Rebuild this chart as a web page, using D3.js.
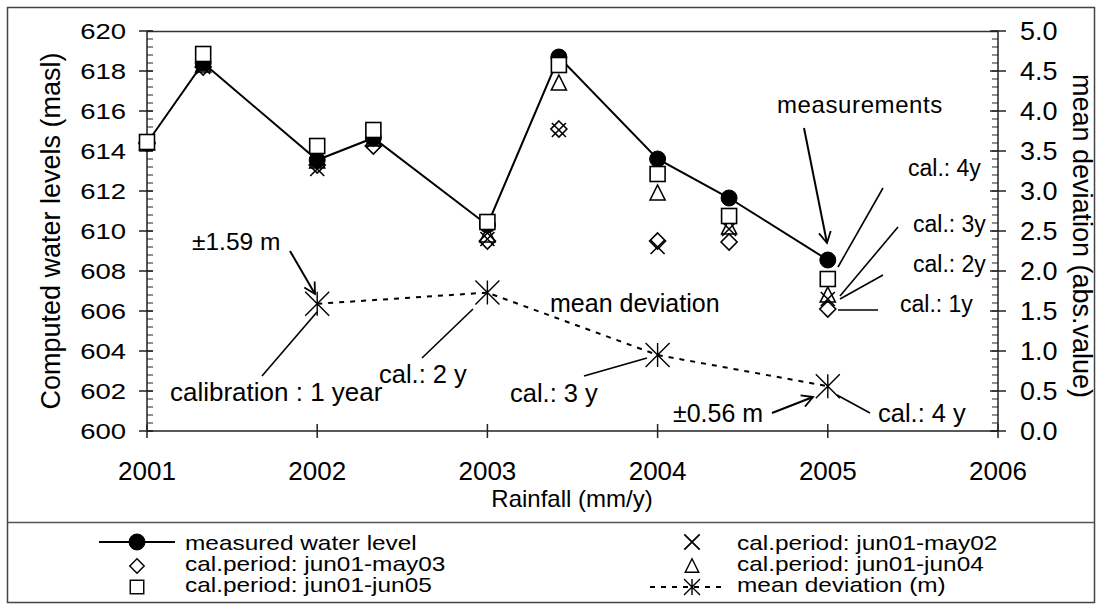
<!DOCTYPE html>
<html><head><meta charset="utf-8">
<script src="https://cdn.jsdelivr.net/npm/d3@7"></script>
<style>html,body{margin:0;padding:0;background:#fff;} svg{display:block;font-family:"Liberation Sans",Arial,sans-serif;}</style>
</head><body><svg id="c" width="1098" height="606"></svg>
<script>
// ---------- data ----------
const dates      = [2001, 2001.33, 2002, 2002.33, 2003, 2003.42, 2004, 2004.42, 2005];
const measured   = [614.4, 618.4, 613.55, 614.65, 610.3, 618.7, 613.6, 611.65, 608.55];
const calMay02   = [614.4, 618.2, 613.1, 614.5, 609.6, 615.05, 609.2, 610.1, 606.6];
const calMay03   = [614.4, 618.2, 613.3, 614.25, 609.5, 615.1, 609.5, 609.45, 606.1];
const calJun04   = [614.4, 618.3, 613.5, 614.6, 609.8, 617.4, 611.9, 610.2, 606.8];
const calJun05   = [614.45, 618.85, 614.25, 615.05, 610.45, 618.3, 612.85, 610.75, 607.6];
const devYears   = [2002, 2003, 2004, 2005];
const meanDev    = [1.59, 1.73, 0.95, 0.56];
const xTicks     = [2001, 2002, 2003, 2004, 2005, 2006];
const yLeftTicks = [600, 602, 604, 606, 608, 610, 612, 614, 616, 618, 620];
const yRightTicks= [0.0, 0.5, 1.0, 1.5, 2.0, 2.5, 3.0, 3.5, 4.0, 4.5, 5.0];
const legendLabels = ["measured water level", "cal.period: jun01-may03", "cal.period: jun01-jun05",
                      "cal.period: jun01-may02", "cal.period: jun01-jun04", "mean deviation (m)"];

// ---------- layout ----------
const svg = d3.select("#c");
const L = 147, R = 998, T = 31, B = 431;
const x  = d3.scaleLinear().domain([2001, 2006]).range([L, R]);
const yL = d3.scaleLinear().domain([600, 620]).range([B, T]);
const yR = d3.scaleLinear().domain([0, 5]).range([B, T]);
const INK = "#000";

function text(px, py, s, fs, o = {}) {
  const sx = o.sx || 1;
  let tr = `translate(${px},${py})`;
  if (o.rot) tr += ` rotate(${o.rot})`;
  if (sx !== 1) tr += ` scale(${sx},1)`;
  return svg.append("text").attr("transform", tr)
    .attr("font-size", fs).attr("text-anchor", o.anchor || "start")
    .attr("letter-spacing", o.ls || 0)
    .attr("fill", INK).text(s);
}

// outer frame & legend separator
svg.append("rect").attr("x", 7.5).attr("y", 7.5).attr("width", 1087).attr("height", 595)
  .attr("fill", "none").attr("stroke", "#444").attr("stroke-width", 1.5);
svg.append("line").attr("x1", 7).attr("x2", 1095).attr("y1", 522.5).attr("y2", 522.5)
  .attr("stroke", "#555").attr("stroke-width", 1.5);

// plot frame top
svg.append("line").attr("x1", L).attr("x2", R).attr("y1", T + 0.5).attr("y2", T + 0.5)
  .attr("stroke", "#333").attr("stroke-width", 1.5);

// axes
const ax = svg.append("g").attr("stroke", "#222").attr("stroke-width", 1.5).attr("fill", "none");
ax.append("line").attr("x1", L).attr("x2", L).attr("y1", T).attr("y2", B);
ax.append("line").attr("x1", R).attr("x2", R).attr("y1", T).attr("y2", B);
ax.append("line").attr("x1", L).attr("x2", R).attr("y1", B).attr("y2", B);
// left minor ticks
d3.range(600, 620.01, 0.4).forEach(v => {
  ax.append("line").attr("x1", L).attr("x2", L + 6).attr("y1", yL(v)).attr("y2", yL(v)).attr("stroke-width", 1);
});
yLeftTicks.forEach(v => {
  ax.append("line").attr("x1", L - 8).attr("x2", L + 6).attr("y1", yL(v)).attr("y2", yL(v));
  text(126, yL(v) + 8, String(v), 22, {anchor: "end", sx: 1.25});
});
// right minor ticks
d3.range(0, 5.001, 0.1).forEach(v => {
  ax.append("line").attr("x1", R - 6).attr("x2", R).attr("y1", yR(v)).attr("y2", yR(v)).attr("stroke-width", 1);
});
yRightTicks.forEach(v => {
  ax.append("line").attr("x1", R - 8).attr("x2", R + 8).attr("y1", yR(v)).attr("y2", yR(v));
  text(1020, yR(v) + 9, v.toFixed(1), 25, {sx: 1.08});
});
xTicks.forEach(v => {
  ax.append("line").attr("x1", x(v)).attr("x2", x(v)).attr("y1", B - 7).attr("y2", B + 7);
  text(x(v), 480, String(v), 26, {anchor: "middle"});
});

// axis titles
text(60, 231, "Computed water levels (masl)", 27, {anchor: "middle", rot: -90});
text(1073, 236, "mean deviation (abs.value)", 27, {anchor: "middle", rot: 90});
text(572, 507, "Rainfall (mm/y)", 24, {anchor: "middle"});

// ---------- symbols ----------
const sym = {
  circle:   g => g.append("circle").attr("r", 8).attr("fill", INK).attr("stroke", INK),
  cross:    g => g.append("path").attr("d", "M-7,-7L7,7M-7,7L7,-7").attr("fill", "none").attr("stroke", INK).attr("stroke-width", 1.6),
  diamond:  g => g.append("path").attr("d", "M0,-8L8,0L0,8L-8,0Z").attr("fill", "none").attr("stroke", INK).attr("stroke-width", 1.6),
  triangle: g => g.append("path").attr("d", "M0,-8L7.5,7L-7.5,7Z").attr("fill", "none").attr("stroke", INK).attr("stroke-width", 1.6),
  square:   g => g.append("rect").attr("x", -7.5).attr("y", -7.5).attr("width", 15).attr("height", 15).attr("fill", "#fff").attr("stroke", INK).attr("stroke-width", 1.6),
  star:     (g, s = 12) => g.append("path").attr("d", `M${-s},${-s}L${s},${s}M${-s},${s}L${s},${-s}M0,${-s}L0,${s}`).attr("fill", "none").attr("stroke", INK).attr("stroke-width", 1.4)
};

// mean deviation dashed line
svg.append("path").datum(devYears.map((d, i) => [d, meanDev[i]]))
  .attr("d", d3.line().x(d => x(d[0])).y(d => yR(d[1])))
  .attr("fill", "none").attr("stroke", INK).attr("stroke-width", 2).attr("stroke-dasharray", "5,6");
devYears.forEach((d, i) => sym.star(svg.append("g").attr("transform", `translate(${x(d)},${yR(meanDev[i])})`)));

// measured line
svg.append("path").datum(dates.map((d, i) => [d, measured[i]]))
  .attr("d", d3.line().x(d => x(d[0])).y(d => yL(d[1])))
  .attr("fill", "none").attr("stroke", INK).attr("stroke-width", 2);

function series(vals, kind) {
  vals.forEach((v, i) => sym[kind](svg.append("g").attr("transform", `translate(${x(dates[i])},${yL(v)})`)));
}
series(measured, "circle");
series(calMay03, "diamond");
series(calMay02, "cross");
series(calJun04, "triangle");
series(calJun05, "square");

// ---------- annotations ----------
svg.append("defs").append("marker").attr("id", "ah").attr("viewBox", "-12 -7 14 14")
  .attr("refX", 0).attr("refY", 0).attr("markerWidth", 14).attr("markerHeight", 14)
  .attr("markerUnits", "userSpaceOnUse").attr("orient", "auto")
  .append("path").attr("d", "M-11,-6L0,0L-11,6").attr("fill", "none").attr("stroke", INK).attr("stroke-width", 1.8);

const annLines = [
  {p: [290, 251, 315, 294], arrow: true},
  {p: [262, 376, 317, 312]},
  {p: [422, 358, 473, 309]},
  {p: [584, 376, 647, 358]},
  {p: [772, 413, 813, 397], arrow: true},
  {p: [870, 413, 837, 395]},
  {p: [804, 128, 827, 243], arrow: true},
  {p: [883, 188, 838, 267]},
  {p: [898, 227, 840, 296]},
  {p: [883, 275, 840, 299]},
  {p: [838, 310, 878, 310]}
];
annLines.forEach(a => {
  const l = svg.append("line").attr("x1", a.p[0]).attr("y1", a.p[1]).attr("x2", a.p[2]).attr("y2", a.p[3])
    .attr("stroke", INK).attr("stroke-width", a.arrow ? 2 : 1.6);
  if (a.arrow) l.attr("marker-end", "url(#ah)");
});

const annTexts = [
  ["±1.59 m", 192, 250, 24.5],
  ["calibration : 1 year", 170, 401, 25, 1.04],
  ["cal.: 2 y", 379, 383, 25.5],
  ["cal.: 3 y", 510, 402, 25.5],
  ["mean deviation", 550, 312, 25],
  ["±0.56 m", 673, 422, 25],
  ["cal.: 4 y", 878, 422, 25.5],
  ["measurements", 777, 113, 24, 1, 0.6],
  ["cal.: 4y", 908, 176, 23],
  ["cal.: 3y", 913, 232, 23],
  ["cal.: 2y", 913, 272, 23],
  ["cal.: 1y", 900, 312, 23]
];
annTexts.forEach(t => text(t[1], t[2], t[0], t[3], {sx: t[4] || 1, ls: t[5] || 0}));

// ---------- legend ----------
const rows = [542, 566, 587];
const base = [550, 571, 592];
svg.append("line").attr("x1", 99).attr("x2", 175).attr("y1", rows[0]).attr("y2", rows[0]).attr("stroke", INK).attr("stroke-width", 2);
sym.circle(svg.append("g").attr("transform", `translate(137,${rows[0]})`));
sym.diamond(svg.append("g").attr("transform", `translate(137,${rows[1]}) scale(0.9)`));
sym.square(svg.append("g").attr("transform", `translate(137,${rows[2]}) scale(0.9)`));
sym.cross(svg.append("g").attr("transform", `translate(692,${rows[0]}) scale(1.1)`));
sym.triangle(svg.append("g").attr("transform", `translate(692,${rows[1]}) scale(0.9)`));
svg.append("line").attr("x1", 650).attr("x2", 725).attr("y1", rows[2]).attr("y2", rows[2]).attr("stroke", INK).attr("stroke-width", 2).attr("stroke-dasharray", "5,6");
sym.star(svg.append("g").attr("transform", `translate(692,${rows[2]})`), 8);
legendLabels.forEach((s, i) => {
  const col = i < 3 ? 185 : 737;
  text(col, base[i % 3], s, 20, {sx: 1.22});
});
</script></body></html>
